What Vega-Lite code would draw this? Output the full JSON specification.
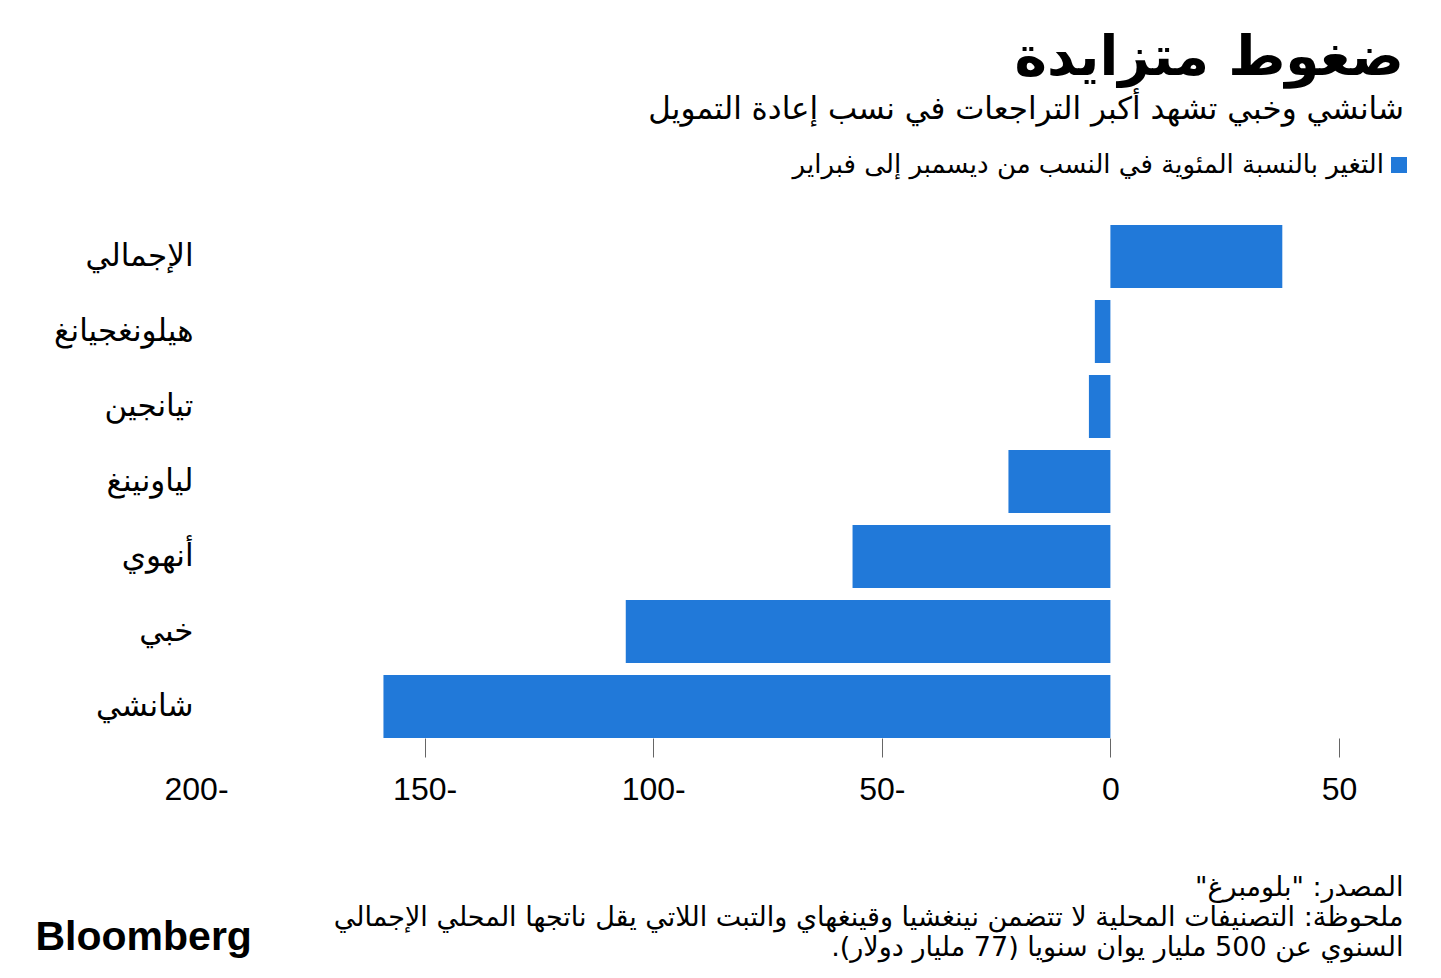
{
  "$schema": "https://vega.github.io/schema/vega-lite/v6.json",
  "width": 1143,
  "height": 525,
  "autosize": "none",
  "padding": {"left": 196, "top": 219, "right": 102, "bottom": 234},
  "background": "white",
  "title": {
    "text": "ضغوط متزايدة",
    "subtitle": "شانشي وخبي تشهد أكبر التراجعات في نسب إعادة التمويل",
    "anchor": "end",
    "frame": "group",
    "dx": 65,
    "offset": 26,
    "font": "DejaVu Sans",
    "fontSize": 55,
    "fontWeight": "bold",
    "color": "#000000",
    "subtitleFont": "DejaVu Sans",
    "subtitleFontSize": 31,
    "subtitleColor": "#000000",
    "subtitlePadding": 8
  },
  "data": {
    "values": [
      {"region": "الإجمالي", "change": 37.6},
      {"region": "هيلونغجيانغ", "change": -3.4},
      {"region": "تيانجين", "change": -4.7},
      {"region": "لياونينغ ", "change": -22.3},
      {"region": "أنهوي", "change": -56.4},
      {"region": "خبي", "change": -106},
      {"region": "شانشي", "change": -159}
    ]
  },
  "mark": {"type": "bar"},
  "encoding": {
    "y": {
      "field": "region",
      "type": "nominal",
      "sort": null,
      "scale": {"paddingInner": 0.16, "paddingOuter": 0.08},
      "axis": {
        "ticks": false,
        "domain": false,
        "labelPadding": 3,
        "labelFont": "DejaVu Sans",
        "labelFontSize": 31,
        "labelColor": "#000000",
        "labelLimit": 0,
        "title": "Bloomberg",
        "titleAngle": 0,
        "titleX": -161,
        "titleY": 718,
        "titleAlign": "left",
        "titleBaseline": "middle",
        "titleFont": "Liberation Sans",
        "titleFontSize": 41,
        "titleFontWeight": "bold",
        "titleColor": "#000000"
      }
    },
    "x": {
      "field": "change",
      "type": "quantitative",
      "scale": {"domain": [-200, 50], "nice": false},
      "axis": {
        "values": [-200, -150, -100, -50, 0, 50],
        "grid": false,
        "domain": false,
        "offset": -6,
        "tickSize": 19,
        "tickWidth": 1,
        "tickColor": {"condition": {"test": "datum.value === -200", "value": "transparent"}, "value": "#666666"},
        "labelExpr": "datum.value < 0 ? (-datum.value) + '-' : datum.label",
        "labelFlush": false,
        "labelOverlap": false,
        "labelFont": "Liberation Sans",
        "labelFontSize": 32,
        "labelColor": "#000000",
        "labelPadding": 17,
        "title": ["\u200fالمصدر: \"بلومبرغ\"\u200f", "\u200fملحوظة: التصنيفات المحلية لا تتضمن نينغشيا وقينغهاي والتبت اللاتي يقل ناتجها المحلي الإجمالي\u200f", "\u200fالسنوي عن 500 مليار يوان سنويا (77 مليار دولار).\u200f"],
        "titleAnchor": "end",
        "titleAlign": "right",
        "titleBaseline": "top",
        "titleX": 1207,
        "titleY": 136,
        "titleFont": "DejaVu Sans",
        "titleFontSize": 27,
        "titleFontWeight": "normal",
        "titleLineHeight": 30,
        "titleColor": "#000000"
      }
    },
    "color": {
      "datum": "التغير بالنسبة المئوية في النسب من ديسمبر إلى فبراير",
      "type": "nominal",
      "scale": {"range": ["#2179d9"]},
      "legend": {
        "orient": "none",
        "legendX": 1190,
        "legendY": -67,
        "title": null,
        "padding": 0,
        "symbolType": "square",
        "symbolSize": 256,
        "symbolStrokeWidth": 0,
        "labelAlign": "right",
        "labelOffset": -28,
        "labelFont": "DejaVu Sans",
        "labelFontSize": 26,
        "labelColor": "#000000",
        "labelLimit": 0
      }
    }
  },
  "config": {"view": {"stroke": null}}
}
